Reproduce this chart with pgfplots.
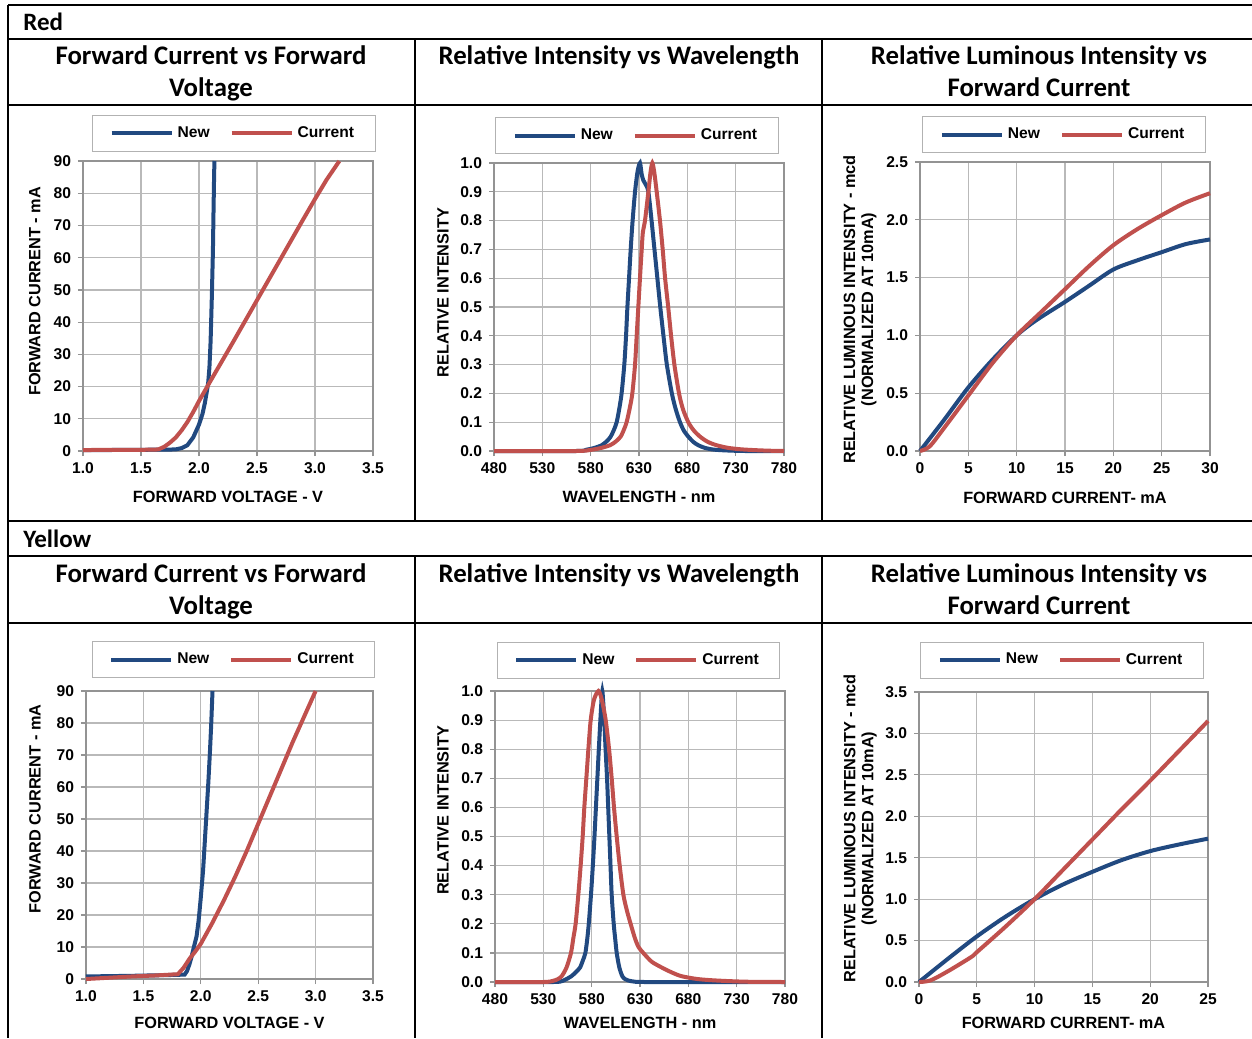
\documentclass[border=0pt]{standalone}
\usepackage{fontspec}
\setmainfont{Liberation Sans}
\newfontfamily\titlefont{Carlito}
\usepackage{pgfplots}
\pgfplotsset{compat=1.18}
\definecolor{newblue}{RGB}{33,73,128}
\definecolor{curred}{RGB}{192,80,77}

\pgfplotsset{
  legend image code/.code={\path (0pt,0pt) -- (4pt,0pt); \draw[#1, line width=2pt] (4pt,0pt) -- (30pt,0pt);},
}
\pgfplotsset{
  led/.style={
    scale only axis,
    clip=false,
    axis line style={draw=gray!85, line width=0.6pt},
    grid=major,
    grid style={draw=gray!55, line width=0.6pt},
    tick align=outside,
    major tick length=2.5pt,
    tick style={draw=gray!85, line width=0.6pt},
    tick pos=left,
    tick label style={font=\bfseries\fontsize{7.8}{9}\selectfont},
    /pgf/number format/assume math mode=true,
    label style={font=\bfseries\fontsize{8.15}{9}\selectfont},
    legend columns=2,
    legend style={draw=gray!60, line width=0.5pt, font=\bfseries\fontsize{7.8}{9}\selectfont,
      inner xsep=8.5pt, inner ysep=3.5pt, anchor=center,
      /tikz/every even column/.append style={column sep=8pt}},
    every axis plot/.append style={line width=2pt},
  },
  fv/.style={led, xmin=1, xmax=3.5, ymin=0, ymax=90,
    xtick={1,1.5,2,2.5,3,3.5}, ytick={0,10,20,30,40,50,60,70,80,90},
    xticklabel style={/pgf/number format/.cd, fixed, fixed zerofill, precision=1},
    xlabel={FORWARD VOLTAGE - V}, ylabel={FORWARD CURRENT - mA}},
  wl/.style={led, xmin=480, xmax=780, ymin=0, ymax=1,
    xtick={480,530,580,630,680,730,780}, ytick={0,0.1,0.2,0.3,0.4,0.5,0.6,0.7,0.8,0.9,1},
    yticklabel style={/pgf/number format/.cd, fixed, fixed zerofill, precision=1},
    xlabel={WAVELENGTH - nm}, ylabel={RELATIVE INTENSITY}},
  lum/.style={led, xmin=0, ymin=0,
    yticklabel style={/pgf/number format/.cd, fixed, fixed zerofill, precision=1},
    xlabel={FORWARD CURRENT- mA},
    ylabel={RELATIVE LUMINOUS INTENSITY - mcd\\(NORMALIZED AT 10mA)},
    ylabel style={align=center}},
}

\begin{document}
\begin{tikzpicture}
\path[use as bounding box, fill=white] (0pt,0pt) rectangle (626pt,-519pt);

\begin{scope}[x=0.5pt,y=-0.5pt]
  \draw[line width=1pt] (8,5) -- (1252,5);
  \draw[line width=1pt] (8,39) -- (1252,39);
  \draw[line width=1pt] (8,105) -- (1252,105);
  \draw[line width=1pt] (8,521) -- (1252,521);
  \draw[line width=1pt] (8,556) -- (1252,556);
  \draw[line width=1pt] (8,623) -- (1252,623);
  \draw[line width=1pt] (8,5) -- (8,1038);
  \draw[line width=1pt] (415,39) -- (415,521);
  \draw[line width=1pt] (822,39) -- (822,521);
  \draw[line width=1pt] (415,556) -- (415,1038);
  \draw[line width=1pt] (822,556) -- (822,1038);
  \begin{scope}[every node/.style={font=\titlefont\bfseries\fontsize{12.5}{15}\selectfont, inner sep=0pt}]
    \node[anchor=base west] at (23,31) {Red};
    \node[anchor=base west] at (23,547) {Yellow};
  \end{scope}
  \begin{scope}[every node/.style={font=\titlefont\bfseries\fontsize{13.4}{16}\selectfont, inner sep=0pt}]
    \node[anchor=base] at (211,65) {Forward Current vs Forward};
    \node[anchor=base] at (211,97) {Voltage};
    \node[anchor=base] at (619,65) {Relative Intensity vs Wavelength};
    \node[anchor=base] at (1039,65) {Relative Luminous Intensity vs};
    \node[anchor=base] at (1039,97) {Forward Current};
    \node[anchor=base] at (211,582) {Forward Current vs Forward};
    \node[anchor=base] at (211,614) {Voltage};
    \node[anchor=base] at (619,582) {Relative Intensity vs Wavelength};
    \node[anchor=base] at (1039,582) {Relative Luminous Intensity vs};
    \node[anchor=base] at (1039,614) {Forward Current};
  \end{scope}
\end{scope}

% ---------- Red: forward current vs forward voltage
\begin{axis}[fv, at={(41.5pt,-225.5pt)}, anchor=south west, width=145pt, height=145pt,
  xlabel style={at={(axis description cs:0.5,-0.159)}, anchor=center},
  ylabel style={at={(axis description cs:-0.166,0.55)}, anchor=center},
  legend style={at={(axis description cs:0.52,1.095)}}]
\addplot[newblue] coordinates {(1.0,0.3)(1.2,0.3)(1.4,0.35)(1.6,0.4)(1.7,0.4)(1.8,0.5)(1.85,0.9)(1.9,1.8)(1.95,4.2)(2.0,8.2)(2.03,11.5)(2.05,14.8)(2.07,19)(2.08,21.5)(2.09,26)(2.10,34)(2.11,47)(2.12,62)(2.125,74)(2.13,85)(2.133,90)};
\addplot[curred] coordinates {(1.0,0.3)(1.3,0.35)(1.6,0.4)(1.65,0.5)(1.7,1.3)(1.75,2.6)(1.8,4.2)(1.85,6.4)(1.9,9)(1.95,12.1)(2.0,15.5)(2.1,21.8)(2.2,28)(2.3,34.2)(2.4,40.5)(2.5,46.8)(2.6,53.1)(2.7,59.4)(2.8,65.7)(2.9,72)(3.0,78.2)(3.1,84.2)(3.21,90)};
\legend{New,Current}
\end{axis}

% ---------- Red: relative intensity vs wavelength
\begin{axis}[wl, at={(247pt,-225.5pt)}, anchor=south west, width=145pt, height=144pt,
  xlabel style={at={(axis description cs:0.5,-0.16)}, anchor=center},
  ylabel style={at={(axis description cs:-0.176,0.55)}, anchor=center},
  legend style={at={(axis description cs:0.493,1.094)}}]
\addplot[newblue, smooth, tension=0.45] coordinates {(480,0)(565,0)(575,0.004)(583,0.01)(591.4,0.02)(597,0.035)(600.7,0.05)(604,0.073)(606.9,0.1)(609.5,0.145)(612,0.2)(614.8,0.3)(616.6,0.4)(618,0.5)(619.7,0.6)(621.4,0.7)(623.4,0.8)(625.9,0.9)(628.5,0.97)(631,1.0)(632.8,0.96)(634.5,0.94)(637,0.925)(639.7,0.9)(643,0.8)(646,0.7)(649,0.6)(652,0.5)(655.3,0.4)(658.8,0.3)(664,0.2)(668,0.145)(672.4,0.1)(676.5,0.07)(681,0.05)(686,0.032)(691.4,0.02)(698,0.011)(707,0.005)(720,0.002)(740,0)(780,0)};
\addplot[curred, smooth, tension=0.45] coordinates {(480,0)(565,0)(580,0.004)(590,0.01)(600,0.02)(606,0.033)(611,0.05)(614.5,0.075)(617.2,0.1)(620.5,0.15)(623.1,0.2)(625.9,0.3)(627.6,0.4)(629.3,0.5)(631,0.6)(632.8,0.7)(634,0.76)(636.2,0.8)(639.7,0.9)(642,0.97)(643.8,1.0)(645.7,0.97)(648.3,0.9)(651.7,0.8)(654.5,0.7)(657,0.6)(660.2,0.5)(663.2,0.4)(666.6,0.3)(671.4,0.2)(675.5,0.145)(681,0.1)(686.5,0.072)(693.1,0.05)(701,0.032)(710.3,0.02)(722,0.011)(735,0.006)(750,0.003)(765,0.001)(780,0)};
\legend{New,Current}
\end{axis}

% ---------- Red: relative luminous intensity vs forward current
\begin{axis}[lum, at={(460pt,-225.5pt)}, anchor=south west, width=145pt, height=144.5pt,
  xmax=30, ymax=2.5, xtick={0,5,10,15,20,25,30}, ytick={0,0.5,1,1.5,2,2.5},
  xlabel style={at={(axis description cs:0.5,-0.163)}, anchor=center},
  ylabel style={at={(axis description cs:-0.207,0.49)}, anchor=center},
  legend style={at={(axis description cs:0.497,1.095)}}]
\addplot[newblue, smooth] coordinates {(0,0)(2.5,0.27)(5,0.55)(7.5,0.79)(10,1.0)(12,1.13)(15,1.29)(17.5,1.43)(20,1.57)(22.5,1.65)(25,1.72)(27.5,1.79)(30,1.83)};
\addplot[curred, smooth] coordinates {(0,0)(1,0.04)(2.5,0.2)(5,0.48)(7.5,0.76)(10,1.0)(12.5,1.2)(15,1.4)(17.5,1.6)(20,1.78)(22.5,1.92)(25,2.04)(27.5,2.15)(30,2.23)};
\legend{New,Current}
\end{axis}

% ---------- Yellow: forward current vs forward voltage
\begin{axis}[fv, at={(43pt,-489.5pt)}, anchor=south west, width=143.5pt, height=144pt,
  xlabel style={at={(axis description cs:0.5,-0.153)}, anchor=center},
  ylabel style={at={(axis description cs:-0.178,0.59)}, anchor=center},
  legend style={at={(axis description cs:0.514,1.108)}}]
\addplot[newblue] coordinates {(1.0,0.8)(1.2,0.9)(1.4,1.0)(1.6,1.15)(1.8,1.3)(1.86,1.4)(1.88,2.5)(1.9,4.5)(1.92,7)(1.94,10)(1.963,13.3)(1.98,18)(1.99,21.6)(2.0,25.5)(2.02,34)(2.035,43)(2.05,52)(2.065,61)(2.079,70.5)(2.09,79)(2.102,90)};
\addplot[curred] coordinates {(1.0,0)(1.2,0.4)(1.4,0.8)(1.6,1.1)(1.8,1.5)(1.85,3.5)(1.905,6.5)(1.95,8.5)(2.0,11)(2.1,17.5)(2.2,24.5)(2.3,32)(2.4,40)(2.5,48.5)(2.6,57)(2.7,65.5)(2.8,74)(2.9,82)(3.0,90)};
\legend{New,Current}
\end{axis}

% ---------- Yellow: relative intensity vs wavelength
\begin{axis}[wl, at={(247.5pt,-491pt)}, anchor=south west, width=145pt, height=145.5pt,
  xlabel style={at={(axis description cs:0.5,-0.141)}, anchor=center},
  ylabel style={at={(axis description cs:-0.179,0.59)}, anchor=center},
  legend style={at={(axis description cs:0.495,1.105)}}]
\addplot[newblue, smooth, tension=0.45] coordinates {(480,0)(540,0)(550,0.004)(559,0.02)(564,0.035)(568,0.05)(571,0.075)(573.5,0.1)(575.5,0.15)(577,0.2)(579.3,0.3)(581.2,0.4)(582.9,0.5)(584.4,0.6)(585.9,0.7)(587.4,0.8)(589,0.9)(590.2,0.97)(591,1.0)(591.8,0.97)(593,0.9)(594.4,0.8)(595.9,0.7)(597.1,0.6)(598.3,0.5)(599.5,0.4)(600.7,0.3)(602.8,0.2)(604.3,0.15)(605.9,0.1)(608.6,0.05)(611.7,0.02)(614.5,0.01)(618,0.005)(625,0.001)(640,0)(780,0)};
\addplot[curred, smooth, tension=0.45] coordinates {(480,0)(530,0)(540,0.004)(545,0.01)(549,0.02)(554,0.05)(558.6,0.1)(561,0.15)(563.4,0.2)(566.2,0.3)(568.6,0.4)(570.7,0.5)(572.4,0.6)(574.5,0.7)(576.6,0.8)(579,0.9)(582.4,0.97)(587,1.0)(590.5,0.97)(594.5,0.9)(598,0.8)(600.7,0.7)(603.1,0.6)(605.9,0.5)(609,0.4)(612.8,0.3)(616.5,0.245)(620.3,0.2)(624.8,0.15)(628.5,0.12)(633.4,0.1)(642,0.07)(652.4,0.05)(662.8,0.033)(673,0.02)(690,0.01)(710,0.005)(740,0.001)(780,0)};
\legend{New,Current}
\end{axis}

% ---------- Yellow: relative luminous intensity vs forward current
\begin{axis}[lum, at={(459.5pt,-491pt)}, anchor=south west, width=144.5pt, height=145pt,
  xmax=25, ymax=3.5, xtick={0,5,10,15,20,25}, ytick={0,0.5,1,1.5,2,2.5,3,3.5},
  xlabel style={at={(axis description cs:0.5,-0.141)}, anchor=center},
  ylabel style={at={(axis description cs:-0.204,0.53)}, anchor=center},
  legend style={at={(axis description cs:0.495,1.11)}}]
\addplot[newblue, smooth] coordinates {(0,0)(2.5,0.28)(5,0.55)(7.5,0.79)(10,1.0)(12.5,1.18)(15,1.33)(17.5,1.47)(20,1.58)(22.5,1.66)(25,1.73)};
\addplot[curred, smooth] coordinates {(0,0)(1,0.02)(2.5,0.13)(4.5,0.3)(5,0.36)(7.5,0.67)(10,1.0)(12.5,1.36)(15,1.72)(17.5,2.08)(20,2.43)(22.5,2.79)(25,3.15)};
\legend{New,Current}
\end{axis}
\end{tikzpicture}
\end{document}
